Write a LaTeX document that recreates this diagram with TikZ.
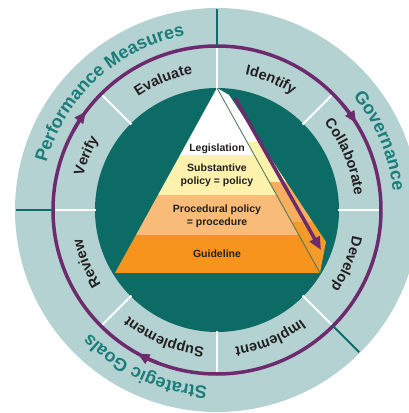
\documentclass[tikz,border=0pt]{standalone}
\usepackage{fontspec}
\setmainfont{Liberation Sans}
\usetikzlibrary{arrows.meta,decorations.text}
\definecolor{ringgray}{HTML}{B4D2D2}
\definecolor{discteal}{HTML}{0D6B65}
\definecolor{divteal}{HTML}{0F6B66}
\definecolor{labelteal}{HTML}{1B7D7A}
\definecolor{cyclepurple}{HTML}{6D2B6D}
\definecolor{polyellow}{HTML}{FCF2AE}
\definecolor{procpeach}{HTML}{F9BB78}
\definecolor{guideorange}{HTML}{F7941E}
\definecolor{sidepeach}{HTML}{F7AE5E}
\definecolor{sideorange}{HTML}{F59B2A}
\definecolor{edgeolive}{HTML}{4B7355}
\definecolor{textgray}{HTML}{231F20}
\newcommand{\goalfont}{\fontsize{18}{18}\selectfont\bfseries}
\newcommand{\stepfont}{\fontsize{14.5}{14.5}\selectfont\bfseries}
\tikzstyle{cycleline}=[draw=cyclepurple,line width=3.5pt]
\tikzstyle{cyclearrow}=[cyclepurple,line width=3.5pt,-{Triangle[length=12pt,width=10pt]}]
\tikzstyle{goaldiv}=[draw=divteal,line width=2pt]
\tikzstyle{stepdiv}=[draw=white,line width=2pt]
\tikzstyle{goallabel}=[decorate,decoration={text along path,text align=center,text color=labelteal}]
\tikzstyle{steplabel}=[decorate,decoration={text along path,text align=center,text color=textgray}]
\tikzstyle{layer}=[align=center,text=textgray,font=\fontsize{10.5}{13}\selectfont\bfseries]

\begin{document}
\begin{tikzpicture}[x=1pt,y=1pt]
            \clip (-217,-203) rectangle (192,210);
            \fill[white] (-217,-203) rectangle (192,210);
            \fill[ringgray] (0,0) circle[radius=202pt];
            \fill[discteal] (0,0) circle[radius=122pt];
            \draw[cycleline] (0,0) circle[radius=164pt];
            \draw[goaldiv] (90:164) -- (90:201);
            \draw[goaldiv] (180:164) -- (180:201);
            \draw[goaldiv] (315:164) -- (315:201);
            \foreach \ang in {0,45,...,315}
                \draw[stepdiv] (\ang:121) -- (\ang:162);
            \draw[cyclearrow] (151:164) arc[start angle=151,end angle=143,radius=164pt];
            \draw[cyclearrow] (40:164) arc[start angle=40,end angle=32,radius=164pt];
            \draw[cyclearrow] (249:164) arc[start angle=249,end angle=241,radius=164pt];
            \coordinate (apex) at (0,122);
            \coordinate (baseL) at (-102,-63);
            \coordinate (baseR) at (103,-63);
            \coordinate (backT) at (12,115);
            \coordinate (backC) at (109,-32);
            \begin{scope}
                \clip (apex) -- (backT) -- (backC) -- (baseR) -- cycle;
                \fill[white] (0,130) rectangle (120,68);
                \fill[polyellow] (0,68) rectangle (120,28);
                \fill[sidepeach] (0,28) rectangle (120,-12);
                \fill[sideorange] (0,-12) rectangle (120,-70);
            \end{scope}
            \begin{scope}
                \clip (apex) -- (baseL) -- (baseR) -- cycle;
                \fill[white] (-110,130) rectangle (110,55);
                \fill[polyellow] (-110,55) rectangle (110,15);
                \fill[procpeach] (-110,15) rectangle (110,-25);
                \fill[guideorange] (-110,-25) rectangle (110,-63);
            \end{scope}
            \draw[edgeolive,line width=0.8pt] (apex) -- (baseR);
            \coordinate (trendS) at (18,112);
            \coordinate (trendE) at (104,-40);
            \draw[cyclepurple,line width=3.5pt,-{Triangle[length=13pt,width=11pt]}] (trendS) -- (trendE);
            \node (legislation)[layer] at (0,61) {Legislation};
            \node (policy)[layer] at (0,35) {Substantive\\policy = policy};
            \node (procedure)[layer] at (0,-6) {Procedural policy\\= procedure};
            \node (guideline)[layer] at (0,-44) {Guideline};
            \path[goallabel,decoration={text={|\goalfont|Performance Measures}}] (170:177) arc[start angle=170,end angle=95,radius=177pt];
            \path[goallabel,decoration={text={|\goalfont|Governance}}] (50:177) arc[start angle=50,end angle=-4,radius=177pt];
            \path[goallabel,decoration={text={|\goalfont|Strategic Goals}}] (275:177) arc[start angle=275,end angle=216,radius=177pt];
            \path[steplabel,decoration={text={|\stepfont|Evaluate}}] (140:138) arc[start angle=140,end angle=85,radius=138pt];
            \path[steplabel,decoration={text={|\stepfont|Identify}}] (95:138) arc[start angle=95,end angle=40,radius=138pt];
            \path[steplabel,decoration={text={|\stepfont|Collaborate}}] (50:138) arc[start angle=50,end angle=-5,radius=138pt];
            \path[steplabel,decoration={text={|\stepfont|Develop}}] (5:138) arc[start angle=5,end angle=-50,radius=138pt];
            \path[steplabel,decoration={text={|\stepfont|Implement}}] (-40:138) arc[start angle=-40,end angle=-95,radius=138pt];
            \path[steplabel,decoration={text={|\stepfont|Supplement}}] (275:138) arc[start angle=275,end angle=220,radius=138pt];
            \path[steplabel,decoration={text={|\stepfont|Review}}] (230:138) arc[start angle=230,end angle=175,radius=138pt];
            \path[steplabel,decoration={text={|\stepfont|Verify}}] (185:138) arc[start angle=185,end angle=130,radius=138pt];
        \end{tikzpicture}
\end{document}
